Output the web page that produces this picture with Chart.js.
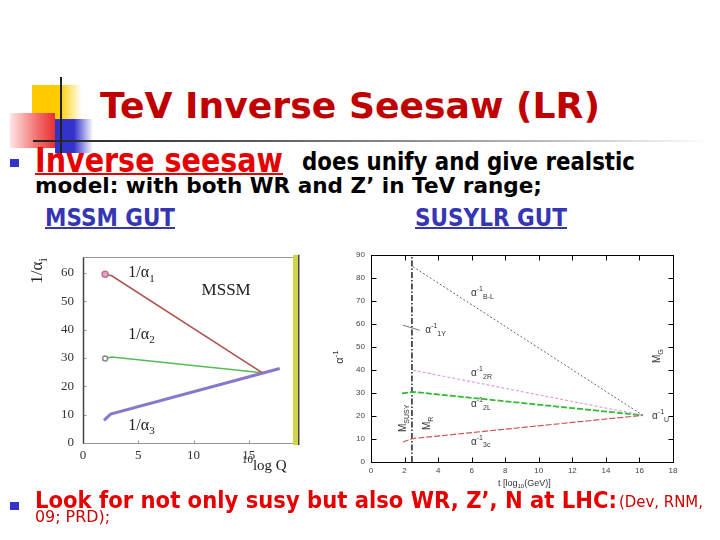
<!DOCTYPE html>
<html>
<head>
<meta charset="utf-8">
<script src="https://cdn.jsdelivr.net/npm/chart.js@4.4.1/dist/chart.umd.min.js"></script>
<style>
html, body { margin: 0; padding: 0; background: #fff; }
#slide { position: relative; width: 720px; height: 540px; overflow: hidden; background: #fff; }
.deco { position: absolute; }
.txt { position: absolute; white-space: nowrap; }
.txt span.t { display: inline-block; transform-origin: 0 0; }
.txt span.m { display: inline-block; width: 0; height: 0; }
canvas { position: absolute; }
</style>
</head>
<body>
<div id="slide">
  <div class="deco" style="left:32px;top:85px;width:50px;height:35px;background:linear-gradient(to right,#ffcc00 0%,#ffcc00 55%,rgba(255,204,0,0) 100%)"></div>
  <div class="deco" style="left:55px;top:119px;width:38px;height:34px;background:linear-gradient(to right,#3333cc 0%,#3333cc 50%,rgba(51,51,204,0) 100%)"></div>
  <div class="deco" style="left:10px;top:113px;width:45px;height:35px;background:linear-gradient(to right,#ffe6e6 0%,#f27070 60%,#e83030 100%)"></div>
  <div class="deco" style="left:60px;top:77px;width:2px;height:79px;background:#222"></div>
  <div class="deco" style="left:33px;top:140px;width:680px;height:2px;background:linear-gradient(to right,#222 0%,#555 30%,#bbb 75%,#fff 100%)"></div>
  <div class="deco" style="left:10px;top:159px;width:9px;height:8px;background:#3333cc"></div>
  <div class="deco" style="left:10px;top:502px;width:9px;height:8px;background:#3333cc"></div>
  <canvas id="mssm" width="282" height="240" style="left:20px;top:240px"></canvas>
  <canvas id="lr" width="360" height="255" style="left:330px;top:240px"></canvas>
</div>
<script>
// ---- left panel: MSSM running of 1/alpha_i ----
const mssmXTicks = [0, 5, 10, 15];
const mssmYTicks = [0, 10, 20, 30, 40, 50, 60];
const mssmA1 = [[2.0, 59.5], [2.6, 59.0], [16.2, 24.8]];
const mssmA2 = [[2.0, 29.8], [2.6, 30.3], [16.0, 24.9]];
const mssmA3 = [[1.9, 8.0], [2.5, 10.2], [17.8, 26.3]];

// ---- right panel: SUSY LR running of alpha^-1 ----
const lrXTicks = [0, 2, 4, 6, 8, 10, 12, 14, 16, 18];
const lrYTicks = [0, 10, 20, 30, 40, 50, 60, 70, 80, 90];
const lrBL = [[2.5, 84.9], [16.2, 20.3]];
const lr1Y = [[1.9, 59.5], [2.9, 57.3]];
const lr2R = [[2.5, 39.9], [16.2, 20.3]];
const lr2L = [[1.85, 29.8], [2.5, 30.5], [16.2, 20.3]];
const lr3c = [[1.9, 8.7], [2.5, 10.2], [16.2, 20.3]];
const lrMsusy = [[2.44, 0], [2.44, 90]];

// slide text
const slideText = [
  { s: 'TeV Inverse Seesaw (LR)', x: 100, y: 118, w: 500, size: 36, color: '#c00000' },
  { s: 'Inverse seesaw', x: 35, y: 172, w: 248, size: 34, color: '#e60000', u: true },
  { s: 'does unify and give realstic', x: 302, y: 170, w: 333, size: 24, color: '#000' },
  { s: 'model: with both WR and Z’ in TeV range;', x: 35, y: 193, w: 507, size: 22, color: '#000' },
  { s: 'MSSM GUT', x: 45, y: 226, w: 130, size: 24, color: '#3535b5', u: true },
  { s: 'SUSYLR GUT', x: 415, y: 226, w: 152, size: 24, color: '#3535b5', u: true },
  { s: 'Look for not only susy but also WR, Z’, N at LHC:', x: 35, y: 508, w: 582, size: 23, color: '#e60000' },
  { s: '(Dev, RNM,', x: 619, y: 507, w: 84, size: 16, color: '#cc0000', normal: true },
  { s: '09; PRD);', x: 35, y: 522, w: 75, size: 16, color: '#cc0000', normal: true }
];

const slide = document.getElementById('slide');
slideText.forEach(t => {
  const d = document.createElement('div');
  d.className = 'txt';
  d.style.left = t.x + 'px';
  d.style.font = (t.normal ? 'normal' : 'bold') + ' ' + t.size + 'px "DejaVu Sans", sans-serif';
  d.style.color = t.color;
  const s = document.createElement('span');
  s.className = 't';
  s.textContent = t.s;
  if (t.u) {
    s.style.textDecoration = 'underline';
    s.style.textDecorationThickness = '2px';
  }
  const m = document.createElement('span');
  m.className = 'm';
  d.append(s, m);
  slide.appendChild(d);
  const w = s.getBoundingClientRect().width;
  s.style.transform = 'scaleX(' + (t.w / w) + ')';
  d.style.top = (t.y - m.offsetTop) + 'px';
});

function pts(arr) {
  return arr.map(p => ({ x: p[0], y: p[1] }));
}

// draws text with sub/superscripts
function drawRich(ctx, parts, size, family, center) {
  const fs = k => k === 'n' ? size : Math.round(size * 0.7);
  const dy = k => k === 'sup' ? -size * 0.4 : (k === 'sub' ? size * 0.35 : 0);
  let total = 0;
  parts.forEach(([t, k]) => {
    ctx.font = fs(k) + 'px ' + family;
    total += ctx.measureText(t).width;
  });
  let cx = center ? -total / 2 : 0;
  parts.forEach(([t, k]) => {
    ctx.font = fs(k) + 'px ' + family;
    ctx.fillText(t, cx, dy(k));
    cx += ctx.measureText(t).width;
  });
}

const notesPlugin = {
  id: 'notes',
  afterDraw(chart, args, opts) {
    const ctx = chart.ctx;
    const x = chart.scales.x, y = chart.scales.y;
    (opts.items || []).forEach(n => {
      ctx.save();
      ctx.translate(x.getPixelForValue(n.x), y.getPixelForValue(n.y));
      if (n.rot) ctx.rotate(-Math.PI / 2);
      ctx.fillStyle = n.color || opts.color;
      ctx.textBaseline = 'middle';
      ctx.textAlign = 'left';
      drawRich(ctx, n.parts, n.size || opts.size, opts.family, n.center);
      ctx.restore();
    });
  }
};

const framePlugin = {
  id: 'frame',
  afterDraw(chart, args, o) {
    const ctx = chart.ctx, a = chart.chartArea;
    const x = chart.scales.x, y = chart.scales.y;
    const l = Math.round(a.left) + 0.5, r = Math.round(a.right) + 0.5;
    const t = Math.round(a.top) + 0.5, b = Math.round(a.bottom) + 0.5;
    ctx.save();
    ctx.lineWidth = 1;
    ctx.strokeStyle = o.color;
    ctx.strokeRect(l, t, r - l, b - t);
    ctx.beginPath();
    x.ticks.forEach(tk => {
      const px = Math.round(x.getPixelForValue(tk.value)) + 0.5;
      ctx.moveTo(px, b); ctx.lineTo(px, b - o.tick);
      if (o.all) { ctx.moveTo(px, t); ctx.lineTo(px, t + o.tick); }
    });
    y.ticks.forEach(tk => {
      const py = Math.round(y.getPixelForValue(tk.value)) + 0.5;
      ctx.moveTo(l, py); ctx.lineTo(l + o.tick, py);
      if (o.all) { ctx.moveTo(r, py); ctx.lineTo(r - o.tick, py); }
    });
    ctx.stroke();
    if (o.axisColor) {
      // darker left axis line
      ctx.strokeStyle = o.axisColor;
      ctx.lineWidth = 1.5;
      ctx.beginPath();
      ctx.moveTo(l, t); ctx.lineTo(l, b);
      ctx.stroke();
    }
    if (o.band) {
      ctx.fillStyle = o.band;
      ctx.fillRect(a.right, a.top - 2, 5, a.bottom - a.top + 4);
      ctx.fillStyle = '#444';
      ctx.fillRect(a.right + 5, a.top - 2, 1.5, a.bottom - a.top + 4);
    }
    ctx.restore();
  }
};

function axis(min, max, ticks, size, family, color, pad, fit) {
  return {
    type: 'linear', min: min, max: max,
    grid: { display: false, drawTicks: false },
    border: { display: false },
    ticks: { font: { family: family, size: size }, color: color, padding: pad, autoSkip: false, maxRotation: 0 },
    afterBuildTicks: s => { s.ticks = ticks.map(v => ({ value: v })); },
    afterFit: fit
  };
}

function line(data, color, width, dash, extra) {
  return Object.assign({
    data: pts(data), showLine: true, borderColor: color, borderWidth: width,
    borderDash: dash || [], pointRadius: 0, tension: 0
  }, extra || {});
}

const serif = '"Liberation Serif", "Times New Roman", serif';
const sans = '"Liberation Sans", Arial, sans-serif';

new Chart(document.getElementById('mssm'), {
  type: 'scatter',
  data: {
    datasets: [
      line(mssmA1, '#b0504a', 1.5, null, { pointRadius: [3, 0, 0], backgroundColor: '#eaa0c8', pointBorderColor: '#c07090' }),
      line(mssmA2, '#55bb55', 1.5, null, { pointRadius: [2.5, 0, 0], backgroundColor: '#fff', pointBorderColor: '#888' }),
      line(mssmA3, '#8877cc', 3)
    ]
  },
  options: {
    responsive: false, animation: false,
    layout: { padding: { left: 0, top: 10, right: 9, bottom: 0 } },
    scales: {
      x: axis(0, 19, mssmXTicks, 13, serif, '#333', 5, s => { s.height = 37; }),
      y: axis(0, 65.7, mssmYTicks, 13, serif, '#333', 9, s => { s.width = 63; })
    },
    plugins: {
      legend: { display: false },
      tooltip: { enabled: false },
      frame: { color: '#999', tick: 3, all: false, band: '#d4d44c', axisColor: '#444' },
      notes: {
        family: serif, size: 16, color: '#222',
        items: [
          { x: 4.1, y: 59.9, parts: [['1/α', 'n'], ['1', 'sub']] },
          { x: 4.1, y: 38.3, parts: [['1/α', 'n'], ['2', 'sub']] },
          { x: 4.1, y: 6.2, parts: [['1/α', 'n'], ['3', 'sub']] },
          { x: 12.95, y: 53.9, size: 17, center: true, parts: [['MSSM', 'n']] },
          { x: -4.1, y: 60.7, size: 17, rot: true, center: true, parts: [['1/α', 'n'], ['i', 'sub']] },
          { x: 16.4, y: -8.0, size: 15, center: true, parts: [['10', 'sup'], ['log Q', 'n']] }
        ]
      }
    }
  },
  plugins: [framePlugin, notesPlugin]
});

new Chart(document.getElementById('lr'), {
  type: 'scatter',
  data: {
    datasets: [
      line(lrBL, '#666', 1, [2, 2]),
      line(lr1Y, '#777', 1),
      line(lr2R, '#e0a0e0', 1.2, [3, 2]),
      line(lr2L, '#33b833', 1.8, [6, 2]),
      line(lr3c, '#cc5555', 1.2, [6, 2]),
      line(lrMsusy, '#000', 1.3, [6, 2, 1.5, 2])
    ]
  },
  options: {
    responsive: false, animation: false,
    layout: { padding: { left: 0, top: 15, right: 17, bottom: 0 } },
    scales: {
      x: axis(0, 18, lrXTicks, 8, sans, '#444', 4, s => { s.height = 33; }),
      y: axis(0, 90, lrYTicks, 8, sans, '#444', 6, s => { s.width = 41; })
    },
    plugins: {
      legend: { display: false },
      tooltip: { enabled: false },
      frame: { color: '#000', tick: 5, all: true },
      notes: {
        family: sans, size: 10, color: '#333',
        items: [
          { x: 5.96, y: 73.3, parts: [['α', 'n'], ['-1', 'sup'], ['B-L', 'sub']] },
          { x: 3.24, y: 57.3, parts: [['α', 'n'], ['-1', 'sup'], ['1Y', 'sub']] },
          { x: 5.96, y: 38.5, parts: [['α', 'n'], ['-1', 'sup'], ['2R', 'sub']] },
          { x: 5.96, y: 25.0, parts: [['α', 'n'], ['-1', 'sup'], ['2L', 'sub']] },
          { x: 5.96, y: 8.7, parts: [['α', 'n'], ['-1', 'sup'], ['3c', 'sub']] },
          { x: 16.75, y: 19.9, parts: [['α', 'n'], ['-1', 'sup'], ['U', 'sub']] },
          { x: 1.92, y: 19.0, rot: true, center: true, parts: [['M', 'n'], ['SUSY', 'sub']] },
          { x: 3.35, y: 16.8, rot: true, center: true, parts: [['M', 'n'], ['R', 'sub']] },
          { x: 17.06, y: 46, rot: true, center: true, parts: [['M', 'n'], ['G', 'sub']] },
          { x: -1.83, y: 45.6, size: 11, rot: true, center: true, parts: [['α', 'n'], ['-1', 'sup']] },
          { x: 9.14, y: -9.3, size: 9, center: true, parts: [['t [log', 'n'], ['10', 'sub'], ['(GeV)]', 'n']] }
        ]
      }
    }
  },
  plugins: [framePlugin, notesPlugin]
});
</script>
</body>
</html>
